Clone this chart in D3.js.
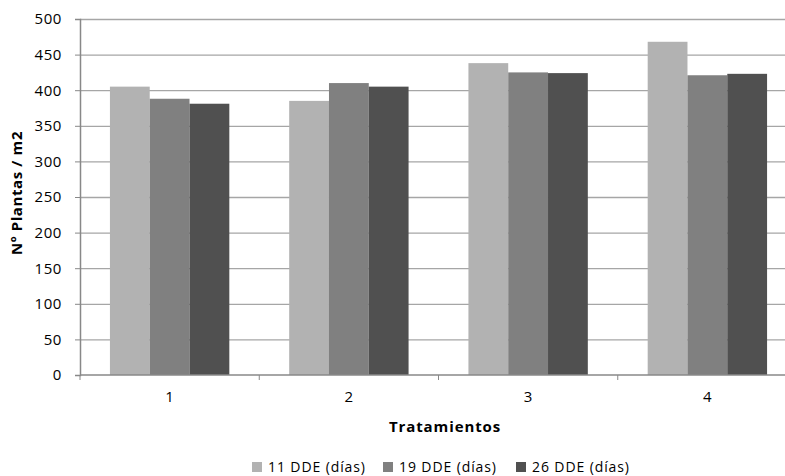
<!DOCTYPE html>
<html><head><meta charset="utf-8">
<script src="https://cdn.jsdelivr.net/npm/d3@7"></script>
<style>body{margin:0;background:#fff}text{font-family:"Open Sans",Calibri,sans-serif}</style>
</head><body><svg id="c" width="785" height="476"></svg>
<script>
const categories = ["1","2","3","4"];
const seriesNames = ["11 DDE (días)","19 DDE (días)","26 DDE (días)"];
const s11 = [405, 385, 438, 468];
const s19 = [388, 410, 425, 421];
const s26 = [381, 405, 424, 423];
const yTicks = [0,50,100,150,200,250,300,350,400,450,500];
const colors = ["#b2b2b2","#808080","#505050"];
const seriesVals = [s11, s19, s26];

(function(){
const svg = d3.select("#c");
const mLeft = 80, mRight = 797, mTop = 19, mBottom = 375;
const x0 = d3.scaleBand().domain(categories).range([mLeft, mRight]).padding(0);
const bw = x0.bandwidth();
const x1 = d3.scaleBand().domain(seriesNames).range([bw*0.167, bw*0.833]).padding(0);
const y = d3.scaleLinear().domain([0,500]).range([mBottom, mTop]);

svg.append("g").selectAll("line").data(yTicks.filter(d=>d>0)).join("line")
  .attr("x1", mLeft).attr("x2", mRight).attr("y1", d=>y(d)+0.5).attr("y2", d=>y(d)+0.5)
  .attr("stroke", "#a6a6a6").attr("stroke-width", 1.3);

categories.forEach((c, i) => {
  seriesNames.forEach((s, j) => {
    svg.append("rect")
      .attr("x", x0(c) + x1(s)).attr("width", x1.bandwidth())
      .attr("y", y(seriesVals[j][i])).attr("height", mBottom - y(seriesVals[j][i]))
      .attr("fill", colors[j]);
  });
});

const yAxis = svg.append("g").attr("transform", `translate(${mLeft},0)`)
  .call(d3.axisLeft(y).tickValues(yTicks).tickSize(5).tickPadding(13));
yAxis.select(".domain").attr("stroke", "#888").attr("stroke-width", 1.5);
yAxis.selectAll(".tick line").attr("stroke", "#888");
yAxis.selectAll("text").attr("font-size", 15).attr("letter-spacing", 0.6).attr("fill", "#000").attr("font-family", '"Open Sans",sans-serif');

const xAxis = svg.append("g").attr("transform", `translate(0,${mBottom})`);
xAxis.append("line").attr("x1", mLeft).attr("x2", mRight).attr("y1", 0).attr("y2", 0)
  .attr("stroke", "#888").attr("stroke-width", 1.5);
const bounds = categories.map(c => x0(c)).concat([mRight]);
xAxis.selectAll(".tk").data(bounds).join("line").attr("class","tk")
  .attr("x1", d=>d).attr("x2", d=>d).attr("y1", 0).attr("y2", 5).attr("stroke", "#888");
xAxis.selectAll(".lb").data(categories).join("text").attr("class","lb")
  .attr("x", d => x0(d) + bw/2).attr("y", 27).attr("text-anchor", "middle")
  .attr("font-size", 15).text(d => d);

svg.append("text").attr("x", 445).attr("y", 432).attr("text-anchor", "middle")
  .attr("font-size", 15).attr("letter-spacing", 0.9).attr("font-weight", "bold").text("Tratamientos");
svg.append("text").attr("transform", "translate(22,193) rotate(-90)").attr("text-anchor", "middle")
  .attr("font-size", 15).attr("letter-spacing", 0.6).attr("font-weight", "bold").text("Nº Plantas / m2");

const lg = svg.append("g");
const legendX = [252, 383, 516];
seriesNames.forEach((s, j) => {
  const lx = legendX[j];
  lg.append("rect").attr("x", lx).attr("y", 462).attr("width", 10).attr("height", 10).attr("fill", colors[j]);
  lg.append("text").attr("x", lx + 16).attr("y", 472).attr("font-size", 14).attr("letter-spacing", 0.9).text(s);
});
})();
</script></body></html>
